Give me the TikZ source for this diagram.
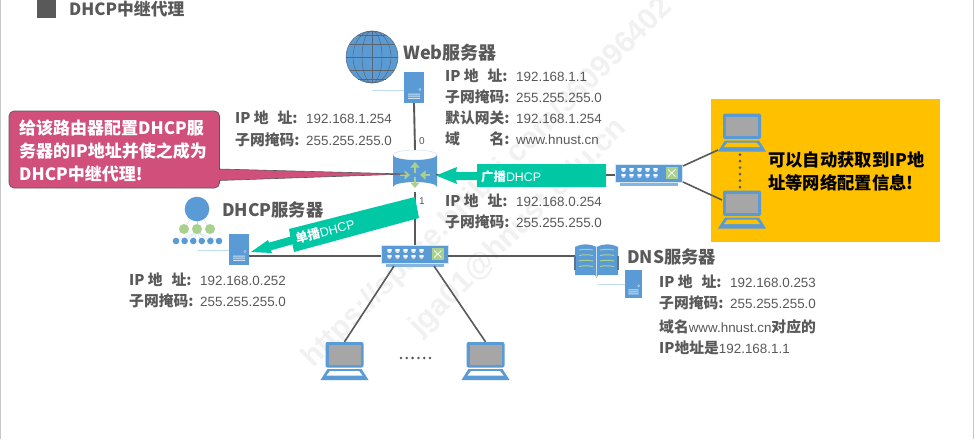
\documentclass[tikz,border=0pt]{standalone}
\usepackage{fontspec}
\setmainfont{Liberation Sans}
\newfontfamily\cjk{Noto Sans CJK SC}
\usetikzlibrary{arrows.meta,calc}
\definecolor{inkgray}{HTML}{595959}
\definecolor{netblue}{HTML}{5B9BD5}
\definecolor{leaf}{HTML}{A9D18E}
\definecolor{teal}{HTML}{00C8A5}
\definecolor{rosecall}{HTML}{D0507B}
\definecolor{amber}{HTML}{FFC000}
\definecolor{screen}{HTML}{A6A6A6}
\definecolor{palewire}{HTML}{BFDDEE}
\definecolor{wmark}{HTML}{F1F1F1}
% label font commands: bold gothic for headings, regular Arial metric for values
\newcommand{\hb}[1]{{\cjk\bfseries #1}}
\newcommand{\hl}[1]{{\fontsize{14.8}{15}\selectfont\cjk\bfseries #1}}
\newcommand{\infoline}[3]{\node[infotext] at (#1) {\hl{#2}}; \node[infotext] at ($(#1)+(71,0)$) {#3};}
\tikzset{
  x=1pt,y=-1pt,
  wire/.style={draw=inkgray,line width=1.9pt},
  thinwire/.style={draw=inkgray,line width=1.6pt},
  paleline/.style={draw=palewire,line width=0.7pt},
  infotext/.style={anchor=base west,inner sep=0pt,text=inkgray,font=\fontsize{13.4}{15}\selectfont},
  headtext/.style={anchor=base west,inner sep=0pt,text=inkgray,font=\fontsize{17.3}{19}\selectfont\cjk\bfseries},
  whitetext/.style={anchor=base west,inner sep=0pt,text=white,font=\fontsize{17}{21}\selectfont\cjk\bfseries},
  blacktext/.style={anchor=base west,inner sep=0pt,text=black,font=\fontsize{17.3}{21}\selectfont\cjk\bfseries},
  marktext/.style={text=wmark,font=\fontsize{30}{32}\selectfont\bfseries,rotate=45,inner sep=0pt},
  portlabel/.style={inner sep=0pt,text=inkgray,font=\fontsize{10}{12}\selectfont},
  % tower server, anchored at its centre
  serverbox/.pic={
    \node[fill=netblue,draw=none,transform shape,minimum width=20pt,minimum height=31pt,inner sep=0pt] (-box) at (0,0) {};
    \fill[white!70!netblue] (-6,6) rectangle (6,7) (-6,8.2) rectangle (6,9.2) (-6,10.4) rectangle (6,11.4);
    \draw[white!65!netblue,line width=0.4pt] (6,2) circle (1.2);
  },
  % notebook computer, anchored at its centre; the argument tints the keyboard slot
  laptop/.pic={
    \node[minimum width=48pt,minimum height=38pt,inner sep=0pt] (-box) at (0,0) {};
    \fill[netblue,rounded corners=2pt] (-19,-19) rectangle (19,6.5);
    \fill[screen] (-16,-16) rectangle (16,3.5);
    \fill[netblue] (-17,8) -- (17,8) -- (24,19) -- (-24,19) -- cycle;
    \fill[#1] (-14.5,10) -- (14.5,10) -- (18,14.5) -- (-18,14.5) -- cycle;
  },
  % rack switch, anchored at the centre of its face
  switchbox/.pic={
    \fill[netblue!75!white] (-29,9) rectangle (29,12.5);
    \node[fill=netblue,draw=white!75!netblue,line width=0.4pt,minimum width=67pt,minimum height=18pt,inner sep=0pt] (-box) at (0,0) {};
    \foreach \px in {-25,-17,-9,-1,7}{
      \fill[white] (\px-2.2,-4.8) rectangle (\px+2.2,-2.4) (\px-2.2,1) rectangle (\px+2.2,3.4);
      \fill[white] (\px-1.2,-2.4) rectangle (\px+1.2,-1.2) (\px-1.2,3.4) rectangle (\px+1.2,4.6);
    }
    \fill[leaf] (17.5,-6) rectangle (29,6);
    \draw[white,line width=0.7pt] (19.5,-3.5) -- (27,3.5) (19.5,3.5) -- (27,-3.5);
  }
}
\begin{document}
\begin{tikzpicture}
\useasboundingbox (0,0) rectangle (977,439);
\fill[white] (0,0) rectangle (977,439);
% slide edges
\draw[black!22,line width=1pt] (0.5,0) -- (0.5,439) (973.5,0) -- (973.5,439);

% diagonal marks across the sheet
\node[marktext] (markone) at (488,183) {https://space.bilibili.com/360996402};
\node[marktext] (marktwo) at (519,228) {jga01@hnust.edu.cn};

% heading
\fill[inkgray] (37,0) rectangle (55.5,18);
\node[headtext,font=\fontsize{16.8}{18}\selectfont\cjk\bfseries] (title) at (69,15) {DHCP中继代理};

% yellow panel
\fill[amber] (711,99) rectangle (940,242);

% network devices
\pic (web) at (414,87.5) {serverbox};
\pic (dhcp) at (239,249.5) {serverbox};
\pic[xscale=0.85,yscale=0.9] (dns) at (633.5,284) {serverbox};
\pic (swa) at (648.5,173) {switchbox};
\pic (swb) at (414.5,254) {switchbox};
\pic (pca) at (742,132.5) {laptop=amber};
\pic (pcb) at (742,209.5) {laptop=amber};
\pic (pcc) at (344.5,361) {laptop=white};
\pic (pcd) at (485.5,361) {laptop=white};

% router cylinder
\node[minimum width=44pt,minimum height=42pt,inner sep=0pt] (router) at (415,171) {};
\fill[netblue] (393,155) -- (393,187) arc[start angle=180,end angle=360,x radius=22,y radius=5] -- (437,155) arc[start angle=0,end angle=180,x radius=22,y radius=5] -- cycle;
\draw[white!70!netblue,line width=0.5pt] (393,155) arc[start angle=180,end angle=360,x radius=22,y radius=5];
\begin{scope}[leaf,line width=2.6pt,-{Triangle[width=9pt,length=5.5pt]}]
  \draw (415,172.5) -- (415,162);
  \draw (415,177) -- (415,188);
  \draw (400,175) -- (410,175);
  \draw (430,175) -- (420,175);
\end{scope}

% cabling
\coordinate (dnsjoin) at (581,256);
\coordinate (bcastport) at (436,175);
\draw[wire] (web-box.south) -- (router.north);
\draw[wire] (router.south) -- (swb-box.north -| router.south);
\draw[wire] (bcastport) -- (bcastport -| swa-box.west);
\draw[wire] (dhcp-box.east |- dnsjoin) -- (swb-box.west |- dnsjoin);
\draw[wire] (swb-box.east |- dnsjoin) -- (dnsjoin);
\draw[thinwire] (394,266) -- (pcc-box.north);
\draw[thinwire] (434,266) -- (pcd-box.north);
\draw[thinwire] (683,166) -- (718,150);
\draw[thinwire] (683,182) -- (722,200);
\draw[inkgray,line width=3pt,dash pattern=on 0pt off 6.5pt,line cap=round] (pca-box.south) ++(-2,3) -- ++(0,33);
\draw[inkgray,line width=2.8pt,dash pattern=on 0pt off 5.8pt,line cap=round] (401,358) -- (432,358);

% web globe
\fill[netblue] (372,57) circle (26);
\begin{scope}[draw=inkgray!80!netblue,line width=0.5pt]
  \draw (372,57) circle (26);
  \draw (372,31) -- (372,83) (346,57) -- (398,57);
  \draw (372,57) ellipse (10 and 26) (372,57) ellipse (19 and 26);
  \draw (350,44) -- (394,44) (350,70) -- (394,70) (358,35) -- (386,35) (358,79) -- (386,79);
\end{scope}
\draw[paleline] (372,90) -- (web-box.west |- 0,90);

% DHCP service tree
\coordinate (treetop) at (197,209);
\foreach \lx in {176,184.6,193.2,201.8,210.4,219}{
  \draw[palewire,line width=0.4pt] (197,232) -- (\lx,241);
}
\foreach \gx in {184,197,210}{
  \draw[palewire,line width=0.4pt] (treetop) -- (\gx,229);
  \fill[leaf] (\gx,229) circle (5);
}
\fill[netblue] (treetop) circle (12.3);
\foreach \lx in {176,184.6,193.2,201.8,210.4,219}{
  \fill[netblue] (\lx,241) circle (3.3);
}
\draw[paleline] (198,250) -- (dhcp-box.west |- 0,250);

% DNS open book
\fill[netblue] (575,247) .. controls (583,243) and (591,244) .. (596.5,247) .. controls (602,244) and (610,243) .. (618,247) -- (618,275) -- (598,275) -- (596.5,278) -- (595,275) -- (575,275) -- cycle;
\draw[inkgray!60!netblue,line width=1.2pt] (575,256) -- (575,270) (618,256) -- (618,270);
\draw[white!70!netblue,line width=0.5pt] (596.5,247) -- (596.5,277);
\foreach \by in {250,255.5,261,266.5}{
  \draw[leaf,line width=1pt] (579,\by) .. controls (584,\by-1) and (588,\by-1) .. (593,\by);
  \draw[leaf,line width=1pt] (600,\by) .. controls (605,\by-1) and (609,\by-1) .. (614,\by);
}
\draw[paleline] (598,284) -- (dns-box.west |- 0,284);

% teal transmission arrows
\fill[teal] (477,164) -- (606,164) -- (606,187) -- (477,187) -- (477,180) -- (456,180) -- (457,184) -- (436,175.5) -- (457,167) -- (456,172) -- (477,172) -- cycle;
\node[anchor=base west,inner sep=0pt,text=white,font=\fontsize{12.4}{15}\selectfont] (bcast) at (481,181) {\hb{广播}DHCP};
\fill[teal] (415,197) -- (419,218) -- (294,252) -- (292.5,244.3) -- (271,250.3) -- (272,253) -- (251,252) -- (268,240) -- (269,242.6) -- (290.4,236.6) -- (289,229) -- cycle;
\node[rotate=15,inner sep=0pt,text=white,font=\fontsize{12.6}{15}\selectfont] (ucast) at (325,231.5) {\hb{单播}DHCP};

% router callout
\fill[rosecall,draw=inkgray,line width=0.6pt] (219,169) -- (406,174) -- (219,180.5) -- cycle;
\fill[rosecall,draw=inkgray,line width=0.7pt,rounded corners=5pt] (9,111) rectangle (219.5,188);
\fill[rosecall] (217,169.6) rectangle (220.5,180);
\node[whitetext] (calla) at (19,134) {给该路由器配置DHCP服};
\node[whitetext] (callb) at (19,157) {务器的IP地址并使之成为};
\node[whitetext] (callc) at (19,180) {DHCP中继代理!};

% panel caption
\node[blacktext] (capa) at (768,166.5) {可以自动获取到IP地};
\node[blacktext] (capb) at (768,189.5) {址等网络配置信息!};

% device titles
\node[headtext,font=\fontsize{18}{20}\selectfont\cjk\bfseries] (webt) at (403,59) {Web服务器};
\node[headtext] (dhcpt) at (222,216) {DHCP服务器};
\node[headtext] (dnst) at (627,263) {DNS服务器};

% port numbers
\node[portlabel] (port0) at (422,141) {0};
\node[portlabel] (port1) at (422,201) {1};

% addressing notes
\infoline{235,123}{IP 地\hspace{0.6em}址:}{192.168.1.254}
\infoline{235,145}{子网掩码:}{255.255.255.0}

\infoline{445,81}{IP 地\hspace{0.6em}址:}{192.168.1.1}
\infoline{445,102}{子网掩码:}{255.255.255.0}
\infoline{445,123}{默认网关:}{192.168.1.254}
\infoline{445,144}{域\hspace{2em}名:}{www.hnust.cn}

\infoline{445,206}{IP 地\hspace{0.6em}址:}{192.168.0.254}
\infoline{445,227}{子网掩码:}{255.255.255.0}

\infoline{129,285}{IP 地\hspace{0.6em}址:}{192.168.0.252}
\infoline{129,306}{子网掩码:}{255.255.255.0}

\infoline{659,287}{IP 地\hspace{0.6em}址:}{192.168.0.253}
\infoline{659,308}{子网掩码:}{255.255.255.0}
\node[infotext] (dnsc) at (659,332) {\hl{域名}www.hnust.cn\hl{对应的}};
\node[infotext] (dnsd) at (659,353) {\hl{IP地址是}192.168.1.1};
\end{tikzpicture}
\end{document}
